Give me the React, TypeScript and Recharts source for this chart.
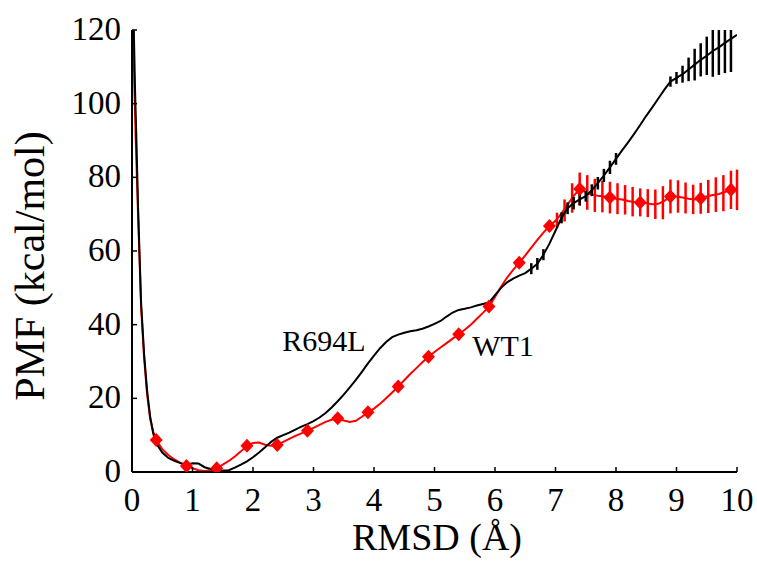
import React from 'react';
import {
  ComposedChart,
  Line,
  Scatter,
  XAxis,
  YAxis,
  ErrorBar,
  ReferenceDot,
  Label,
} from 'recharts';

const FONT = '"Liberation Serif", "Times New Roman", Times, serif';

// R694L (black) PMF curve
const r694lX = [
  0.03, 0.05, 0.07, 0.1, 0.15, 0.2, 0.25, 0.3, 0.35, 0.4, 0.5, 0.6, 0.7, 0.8, 0.9,
  1.0, 1.1, 1.2, 1.3, 1.4, 1.5, 1.6, 1.7, 1.8, 1.9, 2.0, 2.1, 2.2, 2.3, 2.4, 2.5,
  2.6, 2.7, 2.8, 2.9, 3.0, 3.1, 3.2, 3.3, 3.4, 3.5, 3.6, 3.7, 3.8, 3.9, 4.0, 4.1,
  4.2, 4.3, 4.4, 4.5, 4.6, 4.7, 4.8, 4.9, 5.0, 5.1, 5.2, 5.3, 5.4, 5.5, 5.6, 5.7,
  5.8, 5.9, 6.0, 6.1, 6.2, 6.3, 6.4, 6.5, 6.6, 6.7, 6.8, 6.9, 7.0, 7.1, 7.2, 7.3,
  7.4, 7.5, 7.6, 7.7, 7.8, 7.9, 8.0, 8.1, 8.2, 8.3, 8.4, 8.5, 8.6, 8.7, 8.8, 8.9,
  9.0, 9.1, 9.2, 9.3, 9.4, 9.5, 9.6, 9.7, 9.8, 9.9, 10.0,
];
const r694lY = [
  120, 104, 92, 72, 46, 32, 22, 15, 10.5, 7.8, 5.3, 3.8, 3.0, 2.4, 2.0,
  2.4, 2.3, 1.3, 0.8, 0.5, 0.4, 0.5, 1.2, 2.0, 2.9, 4.0, 5.3, 6.7, 8.2, 9.3, 10.0,
  10.7, 11.5, 12.3, 13.0, 13.8, 14.8, 16.0, 17.5, 19.2, 21.0, 23.0, 25.0, 27.2, 29.5, 31.6, 33.6,
  35.3, 36.6, 37.3, 37.8, 38.2, 38.5, 38.9, 39.5, 40.2, 41.0, 42.2, 43.3, 44.0, 44.3, 44.7, 45.2,
  45.6, 46.0, 48.0, 50.0, 51.5, 52.5, 53.3, 54.0, 55.2, 56.5, 59.0, 62.0, 65.5, 69.0, 71.6, 73.0,
  74.0, 74.9, 76.5, 78.4, 80.5, 82.7, 85.0, 87.3, 89.5, 91.8, 94.2, 96.7, 99.0, 101.4, 103.8, 106.0,
  107.0, 108.0, 109.3, 110.6, 111.9, 113.0, 114.3, 115.3, 116.5, 117.6, 118.7,
];
// error bars: lower / upper extent (upper cut at the 120 frame)
const r694lErrX = [6.6, 6.7, 6.8, 7.1, 7.2, 7.3, 7.4, 7.5, 7.6, 7.7, 7.8, 7.9, 8.0, 8.9, 9.0, 9.1, 9.2, 9.3, 9.4, 9.5, 9.6, 9.7, 9.8, 9.9];
const r694lErrY = [55.2, 56.5, 59.0, 69.0, 71.6, 73.0, 74.0, 74.9, 76.5, 78.4, 80.5, 82.7, 85.0, 106.0, 107.0, 108.0, 109.3, 110.6, 111.9, 113.0, 114.3, 115.3, 116.5, 117.6];
const r694lErrLow = [1.5, 1.6, 1.5, 1.5, 1.6, 1.7, 1.6, 1.5, 1.6, 1.7, 1.8, 1.8, 1.6, 1.4, 1.6, 2.3, 3.2, 4.3, 4.5, 5.2, 7.0, 7.5, 8.2, 9.0];
const r694lErrHigh = [1.5, 1.6, 1.5, 1.5, 1.6, 1.7, 1.6, 1.5, 1.6, 1.7, 1.8, 1.8, 1.6, 1.4, 1.6, 2.3, 3.2, 4.3, 4.5, 5.2, 5.7, 4.7, 3.5, 2.4];

// WT1 (red) PMF curve
const wt1X = [
  0.02, 0.04, 0.06, 0.1, 0.15, 0.2, 0.25, 0.3, 0.35, 0.4, 0.5, 0.6, 0.7, 0.8, 0.9,
  1.0, 1.1, 1.2, 1.3, 1.4, 1.5, 1.6, 1.7, 1.8, 1.9, 2.0, 2.1, 2.2, 2.3, 2.4, 2.5,
  2.6, 2.7, 2.8, 2.9, 3.0, 3.1, 3.2, 3.3, 3.4, 3.5, 3.6, 3.7, 3.8, 3.9, 4.0, 4.1,
  4.2, 4.3, 4.4, 4.5, 4.6, 4.7, 4.8, 4.9, 5.0, 5.1, 5.2, 5.3, 5.4, 5.5, 5.6, 5.7,
  5.8, 5.9, 6.0, 6.1, 6.2, 6.3, 6.4, 6.5, 6.6, 6.7, 6.8, 6.9, 7.0, 7.1, 7.2, 7.3,
  7.4, 7.5, 7.6, 7.7, 7.8, 7.9, 8.0, 8.1, 8.2, 8.3, 8.4, 8.5, 8.6, 8.7, 8.8, 8.9,
  9.0, 9.1, 9.2, 9.3, 9.4, 9.5, 9.6, 9.7, 9.8, 9.9, 10.0,
];
const wt1Y = [
  120, 104, 91, 70, 45, 31, 21, 14.5, 11, 8.7, 6.2, 4.6, 3.4, 2.5, 1.6,
  1.0, 0.5, 0.3, 0.5, 1.0, 2.0, 3.0, 4.2, 5.6, 7.1, 7.9, 8.0, 7.4, 7.1, 7.3, 8.2,
  9.0, 9.8, 10.5, 11.2, 12.0, 12.8, 13.6, 14.2, 14.6, 14.0, 13.6, 13.9, 15.0, 16.2, 17.2, 18.5,
  20.0, 21.6, 23.2, 24.9, 26.6, 28.2, 29.8, 31.3, 32.6, 33.8, 35.0, 36.2, 37.4, 38.6, 40.0, 41.6,
  43.2, 44.9, 47.5, 50.3, 52.8, 54.9, 56.8, 58.8, 60.9, 63.0, 65.0, 66.8, 68.2, 70.2, 72.6, 75.0,
  76.8, 76.0, 75.3, 75.0, 74.8, 74.5, 74.2, 74.0, 73.6, 73.3, 73.2, 73.0, 72.7, 72.8, 73.6, 74.8,
  74.8, 74.5, 74.2, 74.0, 74.3, 74.8, 75.2, 75.5, 76.0, 76.6, 76.6,
];
const wt1MarkX = [0.4, 0.9, 1.4, 1.9, 2.4, 2.9, 3.4, 3.9, 4.4, 4.9, 5.4, 5.9, 6.4, 6.9, 7.4, 7.9, 8.4, 8.9, 9.4, 9.9];
const wt1MarkY = [8.7, 1.6, 1.0, 7.1, 7.3, 11.2, 14.6, 16.2, 23.2, 31.3, 37.4, 44.9, 56.8, 66.8, 76.8, 74.5, 73.2, 74.8, 74.3, 76.6];
const wt1ErrX = [6.9, 7.025, 7.15, 7.275, 7.4, 7.525, 7.65, 7.775, 7.9, 8.025, 8.15, 8.275, 8.4, 8.525, 8.65, 8.775, 8.9, 9.025, 9.15, 9.275, 9.4, 9.525, 9.65, 9.775, 9.9, 10.0];
const wt1ErrY = [66.8, 68.4, 71.0, 74.4, 76.8, 75.9, 75.1, 74.8, 74.5, 74.2, 73.9, 73.4, 73.2, 73.0, 72.7, 73.1, 74.8, 74.8, 74.4, 74.0, 74.3, 74.8, 75.3, 75.7, 76.6, 76.6];
const wt1Err = [1.5, 2.0, 3.0, 4.0, 4.5, 4.7, 4.5, 4.3, 4.3, 4.2, 4.0, 4.0, 3.8, 3.8, 4.0, 4.5, 4.6, 4.4, 4.2, 4.0, 4.2, 4.5, 4.7, 4.9, 5.2, 5.5];

const xTicks = [0, 1, 2, 3, 4, 5, 6, 7, 8, 9, 10];
const yTicks = [0, 20, 40, 60, 80, 100, 120];

const zip = (xs: number[], ys: number[]) => xs.map((x, i) => ({ x, y: ys[i] }));

const r694l = zip(r694lX, r694lY);
const r694lBars = r694lErrX.map((x, i) => ({ x, y: r694lErrY[i], err: [r694lErrLow[i], r694lErrHigh[i]] }));
const wt1 = zip(wt1X, wt1Y);
const wt1Marks = zip(wt1MarkX, wt1MarkY);
const wt1Bars = wt1ErrX.map((x, i) => ({ x, y: wt1ErrY[i], err: wt1Err[i] }));

const XTick = (props: any) => {
  const { x, y, payload } = props;
  return (
    <g>
      <line x1={x} y1={y} x2={x} y2={y - 5} stroke="#000" strokeWidth={1.5} />
      <text x={x} y={y + 39} textAnchor="middle" fontFamily={FONT} fontSize={33} fill="#000">
        {payload.value}
      </text>
    </g>
  );
};

const YTick = (props: any) => {
  const { x, y, payload } = props;
  return (
    <g>
      <line x1={x} y1={y} x2={x + 5} y2={y} stroke="#000" strokeWidth={1.5} />
      <text x={x - 11} y={y + 10} textAnchor="end" fontFamily={FONT} fontSize={33} fill="#000">
        {payload.value}
      </text>
    </g>
  );
};

const Diamond = (props: any) => {
  const { cx, cy } = props;
  if (cx == null || cy == null) return <g />;
  return (
    <path
      d={`M${cx},${cy - 7}L${cx + 6.5},${cy}L${cx},${cy + 7}L${cx - 6.5},${cy}Z`}
      fill="#ff0000"
    />
  );
};

const NoShape = () => <g />;

const annotation = (text: string) => (props: any) => {
  const vb = props.viewBox || {};
  return (
    <text x={vb.x} y={vb.y} fontFamily={FONT} fontSize={30} fill="#000">
      {text}
    </text>
  );
};

export default function App() {
  return (
    <div style={{ position: 'absolute', left: 0, top: 0, width: 757, height: 570, background: '#fff' }}>
      <ComposedChart width={757} height={570} margin={{ top: 30, right: 20, bottom: 0, left: 0 }}>
        <XAxis
          type="number"
          dataKey="x"
          domain={[0, 10]}
          ticks={xTicks}
          allowDataOverflow
          height={98}
          tickSize={0}
          tickMargin={0}
          tickLine={false}
          tick={<XTick />}
          axisLine={{ stroke: '#000', strokeWidth: 2 }}
        >
          <Label
            content={() => (
              <text x={437} y={550} textAnchor="middle" fontFamily={FONT} fontSize={38} fill="#000">
                RMSD (Å)
              </text>
            )}
          />
        </XAxis>
        <YAxis
          type="number"
          dataKey="y"
          domain={[0, 120]}
          ticks={yTicks}
          allowDataOverflow
          width={132}
          tickSize={0}
          tickMargin={0}
          tickLine={false}
          tick={<YTick />}
          axisLine={{ stroke: '#000', strokeWidth: 2 }}
        >
          <Label
            content={() => (
              <text
                x={44}
                y={266}
                transform="rotate(-90, 44, 266)"
                textAnchor="middle"
                fontFamily={FONT}
                fontSize={42}
                fill="#000"
              >
                PMF (kcal/mol)
              </text>
            )}
          />
        </YAxis>

        <Line
          data={wt1}
          dataKey="y"
          type="linear"
          stroke="#ff0000"
          strokeWidth={2}
          dot={false}
          activeDot={false}
          isAnimationActive={false}
        />
        <Scatter data={wt1Bars} dataKey="y" shape={NoShape} isAnimationActive={false}>
          <ErrorBar dataKey="err" direction="y" width={0} stroke="#ff0000" strokeWidth={2.5} isAnimationActive={false} />
        </Scatter>
        <Line
          data={r694l}
          dataKey="y"
          type="linear"
          stroke="#000"
          strokeWidth={2}
          dot={false}
          activeDot={false}
          isAnimationActive={false}
        />
        <Scatter data={r694lBars} dataKey="y" shape={NoShape} isAnimationActive={false}>
          <ErrorBar dataKey="err" direction="y" width={0} stroke="#000" strokeWidth={2.5} isAnimationActive={false} />
        </Scatter>
        <Scatter data={wt1Marks} dataKey="y" shape={Diamond} isAnimationActive={false} />

        <ReferenceDot x={2.5} y={32.6} r={1} fill="none" stroke="none" label={{ content: annotation('R694L') }} />
        <ReferenceDot x={5.64} y={31.2} r={1} fill="none" stroke="none" label={{ content: annotation('WT1') }} />
      </ComposedChart>
    </div>
  );
}
